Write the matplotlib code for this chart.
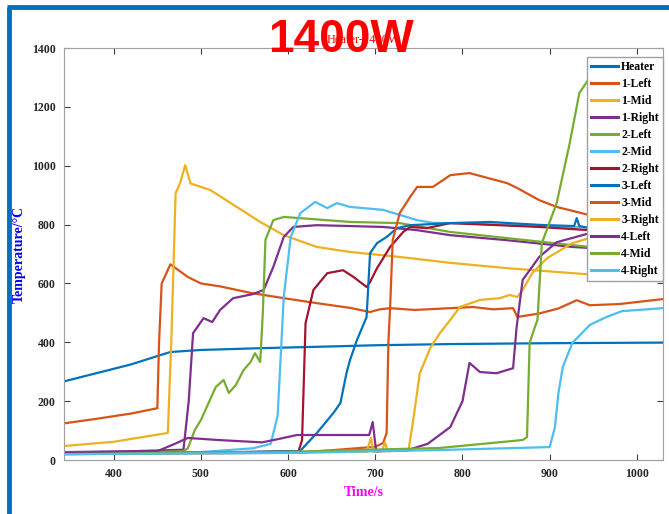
import matplotlib.pyplot as plt
from matplotlib.lines import Line2D

# time (s) / temperature (C)
heaterT = [344, 380, 420, 454, 465, 500, 568, 650, 700, 786, 900, 1030]
heaterY = [268, 295, 325, 357, 367, 374, 380, 386, 390, 394, 397, 399]

left1T = [344, 380, 420, 450, 452, 455, 465, 485, 500, 522, 557, 595, 633, 671, 694, 705, 717, 745, 786, 812, 835, 858, 863, 888, 910, 931, 946, 980, 1030]
left1Y = [125, 140, 158, 176, 400, 600, 665, 622, 600, 590, 568, 550, 533, 517, 503, 512, 516, 510, 516, 520, 512, 516, 486, 498, 515, 543, 526, 530, 547]

mid1T = [344, 400, 462, 466, 471, 476, 482, 488, 511, 568, 595, 633, 671, 728, 786, 851, 926, 1030]
mid1Y = [48, 62, 92, 400, 907, 940, 1002, 940, 917, 809, 764, 724, 707, 690, 670, 652, 635, 612]

right1T = [344, 420, 480, 486, 491, 503, 513, 522, 537, 560, 572, 583, 595, 606, 633, 709, 748, 786, 851, 926, 1030]
right1Y = [27, 30, 35, 200, 431, 482, 469, 510, 550, 564, 578, 656, 758, 792, 798, 792, 781, 764, 747, 724, 706]

left2T = [344, 420, 480, 485, 493, 500, 517, 526, 532, 540, 549, 557, 562, 568, 571, 574, 583, 595, 671, 728, 786, 851, 946, 1030]
left2Y = [22, 25, 30, 40, 102, 136, 248, 272, 228, 255, 306, 333, 363, 333, 500, 748, 815, 826, 809, 805, 775, 754, 724, 713]

mid2T = [344, 500, 560, 580, 588, 595, 603, 614, 631, 645, 656, 671, 709, 748, 766, 786, 851, 946, 1030]
mid2Y = [25, 27, 40, 55, 150, 554, 758, 839, 877, 856, 873, 860, 850, 815, 806, 805, 799, 790, 785]

right2T = [344, 500, 612, 616, 620, 629, 645, 663, 675, 690, 694, 702, 717, 732, 740, 759, 786, 888, 946, 1030]
right2Y = [22, 25, 30, 68, 465, 578, 635, 645, 622, 588, 605, 652, 724, 775, 792, 788, 805, 792, 781, 790]

left3T = [344, 500, 614, 617, 633, 652, 660, 667, 671, 679, 690, 694, 702, 713, 725, 740, 786, 831, 888, 928, 931, 934, 946, 1030]
left3Y = [22, 25, 30, 41, 92, 160, 194, 296, 340, 408, 486, 703, 737, 758, 788, 798, 805, 809, 799, 795, 822, 795, 788, 771]

mid3T = [344, 614, 700, 709, 713, 715, 717, 720, 728, 740, 748, 766, 786, 808, 851, 863, 888, 908, 946, 1030]
mid3Y = [20, 25, 45, 58, 92, 400, 520, 748, 839, 894, 928, 928, 968, 975, 941, 924, 883, 860, 832, 809]

right3T = [344, 690, 695, 698, 708, 711, 714, 738, 743, 751, 763, 774, 786, 797, 820, 843, 854, 863, 869, 880, 897, 926, 965, 1030]
right3Y = [22, 28, 75, 28, 30, 61, 30, 32, 126, 295, 380, 431, 476, 520, 544, 550, 561, 554, 578, 635, 686, 737, 771, 795]

left4T = [344, 450, 470, 485, 520, 570, 590, 610, 693, 697, 701, 735, 760, 786, 800, 808, 820, 839, 858, 862, 869, 888, 908, 946, 1030]
left4Y = [25, 30, 55, 75, 68, 60, 72, 85, 85, 129, 30, 32, 55, 112, 200, 330, 299, 295, 312, 450, 612, 690, 740, 771, 805]

mid4T = [344, 600, 774, 869, 874, 877, 883, 886, 891, 908, 923, 934, 946, 990, 1020, 1030]
mid4Y = [20, 28, 41, 68, 78, 398, 452, 476, 737, 873, 1077, 1247, 1300, 1230, 1160, 1132]

right4T = [344, 600, 774, 900, 906, 910, 915, 926, 946, 965, 983, 1030]
right4Y = [20, 24, 34, 44, 112, 227, 316, 398, 459, 486, 506, 516]

names = ['Heater', '1-Left', '1-Mid', '1-Right', '2-Left', '2-Mid', '2-Right',
         '3-Left', '3-Mid', '3-Right', '4-Left', '4-Mid', '4-Right']
seriesT = [heaterT, left1T, mid1T, right1T, left2T, mid2T, right2T,
           left3T, mid3T, right3T, left4T, mid4T, right4T]
seriesY = [heaterY, left1Y, mid1Y, right1Y, left2Y, mid2Y, right2Y,
           left3Y, mid3Y, right3Y, left4Y, mid4Y, right4Y]
colors = ['#0072BD', '#D95319', '#EDB120', '#7E2F8E', '#77AC30', '#4DBEEE', '#A2142F']

fig = plt.figure(figsize=(6.69, 5.14), dpi=100)
ax = fig.add_axes([0.0957, 0.105, 0.8954, 0.8016])

for i in range(len(names)):
    ax.plot(seriesT[i], seriesY[i], color=colors[i % 7], lw=1.6, label=names[i])

ax.set_xlim(343, 1030)
ax.set_ylim(0, 1400)
ax.set_xticks(range(400, 1001, 100))
ax.set_yticks(range(0, 1401, 200))
for s in ax.spines.values():
    s.set_color('#a0a0a0')
ax.tick_params(direction='in', length=4, color='#404040', top=True, right=True,
               labeltop=False, labelright=False, pad=6)
for lab in ax.get_xticklabels() + ax.get_yticklabels():
    lab.set_fontfamily('Liberation Serif')
    lab.set_fontweight('bold')
    lab.set_fontsize(8.5)
    lab.set_color('#262626')

ax.set_xlabel('Time/s', color='#FF00FF', fontfamily='Liberation Serif',
              fontweight='bold', fontsize=10, labelpad=4)
ax.set_ylabel('Temperature/\u00b0C', color='#0000FF', fontfamily='Liberation Serif',
              fontweight='bold', fontsize=10, labelpad=4)

# small original title hidden under the big red one
ax.text(0.5, 1.005, 'Heater-1400W', transform=ax.transAxes, ha='center', va='bottom',
        color='red', fontfamily='Liberation Serif', fontsize=9)
fig.text(0.51, 0.922, '1400W', ha='center', va='center', color='#FF0000',
         fontfamily='Liberation Sans', fontweight='bold', fontsize=33)

leg = ax.legend(loc='upper right', bbox_to_anchor=(1.0, 0.978), borderaxespad=0,
                prop={'family': 'Liberation Serif', 'weight': 'bold', 'size': 8.5},
                fancybox=False, framealpha=1, edgecolor='#a0a0a0',
                handlelength=2.3, handletextpad=0.25, labelspacing=0.42,
                borderpad=0.35)
for h in leg.get_lines():
    h.set_linewidth(2.2)

# blue slide frame
fig.add_artist(Line2D([9 / 669, 9 / 669], [0, 1 - 7 / 514], color='#0070C0', lw=3.5,
                      solid_capstyle='butt'))
fig.add_artist(Line2D([7 / 669, 1], [1 - 7 / 514, 1 - 7 / 514], color='#0070C0', lw=3.5,
                      solid_capstyle='butt'))

fig.savefig('out.png', dpi=100)
